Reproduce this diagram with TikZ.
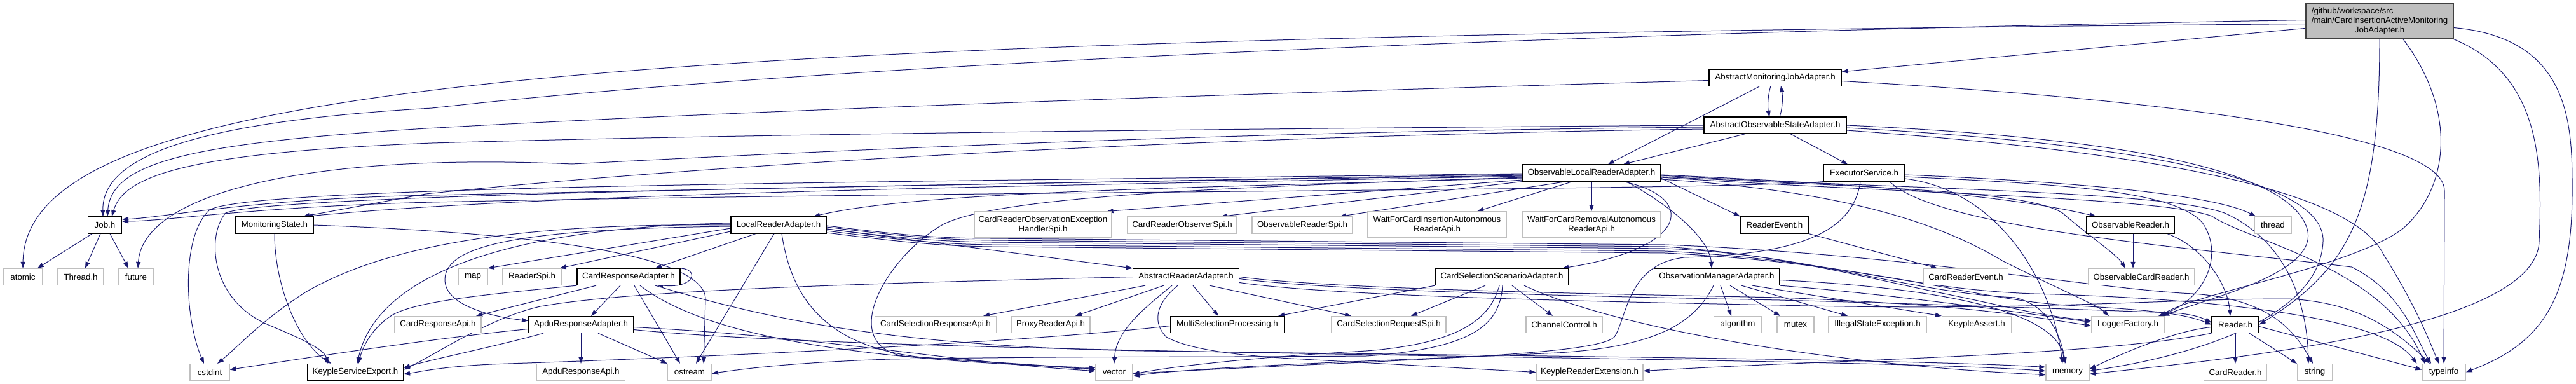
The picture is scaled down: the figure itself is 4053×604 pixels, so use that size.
\documentclass[tikz,border=0pt]{standalone}
\usepackage{fontspec}
\setmainfont{Liberation Sans}
\usetikzlibrary{arrows.meta}
\definecolor{edgec}{HTML}{191970}
\definecolor{extc}{HTML}{BFBFBF}
\definecolor{rootfill}{HTML}{BFBFBF}
\definecolor{rootdraw}{HTML}{404040}
\pgfdeclarelayer{background}
\pgfsetlayers{background,main}
\begin{document}
\begin{tikzpicture}[x=1pt,y=-1pt,
  every node/.style={font=\fontsize{13.3}{15}\selectfont, inner sep=0pt},
  doc/.style={draw=black, line width=1.2pt, fill=white, minimum height=26pt},
  ext/.style={draw=extc, line width=1.2pt, fill=white, minimum height=26pt},
  ml/.style={align=center, minimum height=41pt},
  e/.style={draw=edgec, line width=1pt, -{Triangle[length=10pt,width=7pt]}},
]
\useasboundingbox (0,0) rectangle (4053,604);
% ---------------- nodes ----------------
\node[draw=rootdraw, fill=rootfill, line width=1.2pt, minimum width=232pt, minimum height=55pt] (R) at (3744,33.5)
  {\begin{tabular}{@{}l@{}}/github/workspace/src\\/main/CardInsertionActiveMonitoring\\\multicolumn{1}{@{}c@{}}{JobAdapter.h}\end{tabular}};
\node[doc, minimum width=208pt] (AMJ) at (2793,122.5) {AbstractMonitoringJobAdapter.h};
\node[doc, minimum width=224pt] (AOSA) at (2793,197) {AbstractObservableStateAdapter.h};
\node[doc, minimum width=217pt] (OLRA) at (2504,272) {ObservableLocalReaderAdapter.h};
\node[doc, minimum width=127pt] (ES) at (2933,272) {ExecutorService.h};
% row 5
\node[doc, minimum width=53pt] (Job) at (165,354) {Job.h};
\node[doc, minimum width=123pt] (MS) at (432,354) {MonitoringState.h};
\node[doc, minimum width=150pt] (LRA) at (1225,354) {LocalReaderAdapter.h};
\node[ext, ml, minimum width=216pt] (CROEH) at (1641,353.5) {CardReaderObservationException\\HandlerSpi.h};
\node[ext, minimum width=172pt] (CROS) at (1860,354) {CardReaderObserverSpi.h};
\node[ext, minimum width=158pt] (ORS) at (2049,354) {ObservableReaderSpi.h};
\node[ext, ml, minimum width=218pt] (WFCI) at (2261,353.5) {WaitForCardInsertionAutonomous\\ReaderApi.h};
\node[ext, ml, minimum width=218pt] (WFCR) at (2504,353.5) {WaitForCardRemovalAutonomous\\ReaderApi.h};
\node[doc, minimum width=107pt] (RE) at (2792,354) {ReaderEvent.h};
\node[doc, minimum width=138pt] (OR) at (3352,354) {ObservableReader.h};
\node[ext, minimum width=58pt] (thread) at (3576,354) {thread};
% row 6
\node[ext, minimum width=61pt] (atomic) at (36,435.5) {atomic};
\node[ext, minimum width=72pt] (ThreadH) at (127,435.5) {Thread.h};
\node[ext, minimum width=55pt] (future) at (214,435.5) {future};
\node[ext, minimum width=46pt] (map) at (744,435.5) {map};
\node[ext, minimum width=92pt] (RSpi) at (837,435.5) {ReaderSpi.h};
\node[doc, minimum width=162pt] (CRA) at (989,435.5) {CardResponseAdapter.h};
\node[doc, minimum width=167pt] (ARA) at (1866,435.5) {AbstractReaderAdapter.h};
\node[doc, minimum width=209pt] (CSSA) at (2363,435.5) {CardSelectionScenarioAdapter.h};
\node[doc, minimum width=197pt] (OMA) at (2701,435.5) {ObservationManagerAdapter.h};
\node[ext, minimum width=133pt] (CRE) at (3093,435.5) {CardReaderEvent.h};
\node[ext, minimum width=167pt] (OCR) at (3369,435.5) {ObservableCardReader.h};
% row 7
\node[ext, minimum width=136pt] (CRApi) at (689,510.5) {CardResponseApi.h};
\node[doc, minimum width=165pt] (ARsA) at (914,510.5) {ApduResponseAdapter.h};
\node[ext, minimum width=191pt] (CSRsA) at (1472,510.5) {CardSelectionResponseApi.h};
\node[ext, minimum width=124pt] (PRA) at (1653,510.5) {ProxyReaderApi.h};
\node[doc, minimum width=179pt] (MSP) at (1931,510.5) {MultiSelectionProcessing.h};
\node[ext, minimum width=180pt] (CSRqS) at (2185,510.5) {CardSelectionRequestSpi.h};
\node[ext, minimum width=120pt] (CC) at (2461,510.5) {ChannelControl.h};
\node[ext, minimum width=75pt] (algo) at (2734,510.5) {algorithm};
\node[ext, minimum width=58pt] (mutex) at (2825,510.5) {mutex};
\node[ext, minimum width=154pt] (ISE) at (2954,510.5) {IllegalStateException.h};
\node[ext, minimum width=109pt] (KA) at (3110,510.5) {KeypleAssert.h};
\node[ext, minimum width=115pt] (LF) at (3348,510.5) {LoggerFactory.h};
\node[doc, minimum width=74pt] (Reader) at (3517,510.5) {Reader.h};
% row 8
\node[ext, minimum width=62pt] (cstdint) at (330,585.5) {cstdint};
\node[doc, minimum width=151pt] (KSE) at (559,585.5) {KeypleServiceExport.h};
\node[ext, minimum width=139pt] (ARApi) at (914,585.5) {ApduResponseApi.h};
\node[ext, minimum width=69pt] (ostream) at (1085,585.5) {ostream};
\node[ext, minimum width=58pt] (vector) at (1753,585.5) {vector};
\node[ext, minimum width=168pt] (KRE) at (2501,585.5) {KeypleReaderExtension.h};
\node[ext, minimum width=68pt] (memory) at (3253,585.5) {memory};
\node[ext, minimum width=99pt] (CardReader) at (3517,585.5) {CardReader.h};
\node[ext, minimum width=55pt] (string) at (3642,585.5) {string};
\node[ext, minimum width=68pt] (typeinfo) at (3845,585.5) {typeinfo};

\begin{pgfonlayer}{background}
% ---------- root ----------
\draw[e] (R) -- (AMJ);
\draw[e] ([yshift=-4pt]R.west) .. controls (1000,60) and (40,120) .. (atomic.north);
\draw[e] ([yshift=2pt]R.west) .. controls (2500,50) and (1300,100) .. (680,170) .. controls (330,190) and (160,240) .. ([xshift=-3pt]Job.north);
\draw[e] (R.south) .. controls (3744,330) and (3700,420) .. (Reader.east);
\draw[e] ([xshift=37pt]R.south) .. controls (3870,180) and (3850,300) .. (3780,360) .. controls (3700,420) and (3460,460) .. ([xshift=-8pt]LF.north east);
\draw[e] (R.south east) .. controls (4000,120) and (4000,260) .. (3995,380) .. controls (3990,520) and (3500,565) .. ([yshift=-3pt]memory.east);
\draw[e] ([yshift=-10pt]R.east) .. controls (4047,60) and (4047,200) .. (4047,300) .. controls (4047,470) and (4000,540) .. (typeinfo.east);
% ---------- AbstractMonitoringJobAdapter ----------
\draw[e] (2786,135) .. controls (2781,152) and (2781,168) .. (2784,184);
\draw[e] ([xshift=-25pt]AMJ.south) -- ([xshift=26pt]OLRA.north);
\draw[e] ([yshift=-4pt]AMJ.west) .. controls (2000,146) and (1200,172) .. (670,202) .. controls (300,225) and (175,255) .. ([xshift=4pt]Job.north);
\draw[e] ([yshift=-5pt]AMJ.east) .. controls (3300,150) and (3846,200) .. (3846,300) -- (typeinfo.north);
% ---------- AbstractObservableStateAdapter ----------
\draw[e] (2800,184) .. controls (2805,168) and (2805,152) .. (2802,135);
\draw[e] ([xshift=-47pt]AOSA.south) -- ([xshift=50pt]OLRA.north);
\draw[e] ([xshift=24pt]AOSA.south) -- ([xshift=-26pt]ES.north);
\draw[e] (AOSA.west) .. controls (2000,202) and (1200,210) .. (680,225) .. controls (300,240) and (195,275) .. ([xshift=11pt]Job.north);
\draw[e] ([yshift=-6pt]AOSA.west) .. controls (2000,212) and (1200,250) .. (670,305) -- ([xshift=45pt]MS.north);
\draw[e] ([yshift=-3pt]AOSA.west) .. controls (2000,206) and (1400,232) .. (900,258) .. controls (500,240) and (225,300) .. ([xshift=3pt]future.north);
\draw[e] (AOSA.east) .. controls (3300,215) and (3600,260) .. (3630,360) .. controls (3650,430) and (3470,470) .. ([xshift=-3pt]LF.north east);
\draw[e] ([yshift=-4pt]AOSA.east) .. controls (3350,225) and (3660,280) .. (3655,380) .. controls (3650,500) and (3450,560) .. ([yshift=2pt]memory.east);
\draw[e] ([yshift=-8pt]AOSA.east) .. controls (3400,240) and (3700,300) .. (3750,400) .. controls (3800,480) and (3820,530) .. ([xshift=-8pt]typeinfo.north);
% ---------- ExecutorService ----------
\draw[e] (ES.south west) .. controls (2700,300) and (1500,300) .. (680,318) .. controls (400,325) and (260,348) .. ([yshift=6pt]Job.east);
\draw[e] ([yshift=-3pt]ES.east) .. controls (3250,285) and (3480,305) .. ([xshift=3pt]thread.north west);
\draw[e] ([yshift=-6pt]ES.east) .. controls (3250,290) and (3420,300) .. (3465,350) .. controls (3500,400) and (3470,470) .. ([xshift=-10pt]LF.north east);
\draw[e] ([yshift=-9pt]ES.east) .. controls (3150,300) and (3230,450) .. ([xshift=-8pt]memory.north);
\draw[e] ([xshift=40pt]ES.south) .. controls (3050,360) and (3450,390) .. (3700,420) .. controls (3780,460) and (3800,530) .. ([xshift=-20pt]typeinfo.north);
\draw[e] ([xshift=-6pt]ES.south) .. controls (2915,370) and (2820,400) .. (2650,405) .. controls (2560,415) and (2560,500) .. (2540,530) .. controls (2510,560) and (2200,565) .. ([yshift=-2pt]vector.east);
% ---------- ObservableLocalReaderAdapter ----------
\draw[e] ([yshift=-2pt]OLRA.west) .. controls (1800,285) and (1000,300) .. (680,307) .. controls (400,312) and (260,342) .. ([yshift=9pt]Job.east);
\draw[e] ([yshift=-5pt]OLRA.west) .. controls (1800,290) and (900,300) .. ([xshift=50pt]MS.north);
\draw[e] ([yshift=-8pt]OLRA.west) .. controls (1900,295) and (1450,300) .. ([xshift=55pt]LRA.north);
\draw[e] ([yshift=-11pt]OLRA.west) -- ([xshift=-8pt]CROEH.north east);
\draw[e] (OLRA.south west) -- ([xshift=61pt]CROS.north);
\draw[e] ([xshift=-40pt]OLRA.south) -- ([xshift=59pt]ORS.north);
\draw[e] ([xshift=-30pt]OLRA.south) -- ([xshift=63pt]WFCI.north);
\draw[e] (OLRA.south) -- (WFCR.north);
\draw[e] ([xshift=50pt]OLRA.south) .. controls (2670,310) and (2660,390) .. ([xshift=-10pt]CSSA.north east);
\draw[e] ([xshift=55pt]OLRA.south) .. controls (2640,330) and (2690,380) .. ([xshift=-8pt]OMA.north);
\draw[e] ([yshift=-8pt]OLRA.east) -- (RE.north west);
\draw[e] ([yshift=-3pt]OLRA.east) .. controls (2900,288) and (3150,305) .. ([xshift=-54pt]OR.north);
\draw[e] ([yshift=-6pt]OLRA.east) .. controls (2950,295) and (3190,300) .. (3245,335) .. controls (3285,370) and (3330,400) .. ([xshift=-25pt]OCR.north);
\draw[e] ([yshift=-4pt]OLRA.west) .. controls (1500,290) and (420,305) .. (355,335) .. controls (325,370) and (330,470) .. (420,510) .. controls (480,535) and (510,550) .. ([xshift=-43pt]KSE.north);
\draw[e] ([yshift=-1pt]OLRA.west) .. controls (1500,286) and (400,290) .. (330,330) .. controls (285,370) and (290,500) .. ([xshift=-9pt]cstdint.north);
\draw[e] ([yshift=-7pt]OLRA.west) .. controls (1900,295) and (1560,310) .. (1480,355) .. controls (1390,410) and (1320,540) .. (1420,560) -- ([yshift=4pt]vector.west);
\draw[e] ([yshift=-10pt]OLRA.east) .. controls (2900,300) and (3050,350) .. (3150,410) .. controls (3250,460) and (3300,480) .. ([xshift=-30pt]LF.north);
\draw[e] ([yshift=-4pt]OLRA.east) .. controls (3000,298) and (3400,300) .. (3500,335) .. controls (3600,380) and (3630,480) .. ([xshift=-10pt]string.north);
\draw[e] ([yshift=-7pt]OLRA.east) .. controls (3000,305) and (3400,310) .. (3480,340) .. controls (3540,380) and (3750,420) .. ([xshift=-30pt]typeinfo.north);
% ---------- Job ----------
\draw[e] ([xshift=-20pt]Job.south) -- ([xshift=23pt]atomic.north);
\draw[e] ([xshift=-7pt]Job.south) -- ([xshift=7pt]ThreadH.north);
\draw[e] ([xshift=8pt]Job.south) -- ([xshift=-12pt]future.north);
% ---------- MonitoringState ----------
\draw[e] (MS.south) .. controls (432,450) and (470,540) .. ([xshift=-38pt]KSE.north);
\draw[e] (MS.east) .. controls (800,365) and (1108,395) .. (1110,470) -- ([xshift=22pt]ostream.north);
% ---------- LocalReaderAdapter ----------
\draw[e] ([yshift=-5pt]LRA.west) -- (map.north east);
\draw[e] ([yshift=-10pt]LRA.west) -- ([xshift=-3pt]RSpi.north east);
\draw[e] ([xshift=-36pt]LRA.south) -- ([xshift=42pt]CRA.north);
\draw[e] ([xshift=-7pt]LRA.south) -- ([xshift=10pt]ostream.north);
\draw[e] (LRA.west) .. controls (800,350) and (600,390) .. (480,460) .. controls (410,505) and (375,545) .. ([xshift=12pt]cstdint.north);
\draw[e] ([yshift=3pt]LRA.west) .. controls (900,355) and (600,400) .. ([xshift=3pt]KSE.north);
\draw[e] ([yshift=-2pt]LRA.west) .. controls (820,360) and (700,385) .. (700,440) .. controls (700,485) and (790,500) .. ([yshift=6pt]ARsA.west);
\draw[e] ([yshift=-6pt]LRA.east) -- (ARA.north west);
\draw[e] ([xshift=5pt]LRA.south) .. controls (1245,470) and (1300,545) .. (1450,562) -- ([yshift=5pt]vector.west);
\draw[e] ([yshift=-1pt]LRA.east) .. controls (1420,370) and (1480,375) .. (1560,375) -- (2620,385) .. controls (3000,400) and (3300,455) .. (3450,462) .. controls (3570,470) and (3610,520) .. ([xshift=-3pt]string.north);
\draw[e] ([yshift=-3pt]LRA.east) .. controls (1420,372) and (1480,377) .. (1560,378) -- (2620,388) .. controls (2800,400) and (2950,440) .. (3050,460) .. controls (3150,480) and (3200,495) .. ([yshift=6pt]LF.west);
\draw[e] ([yshift=-6pt]LRA.east) .. controls (1420,375) and (1480,380) .. (1560,381) -- (2620,391) .. controls (2850,400) and (3000,460) .. (3170,468) .. controls (3220,480) and (3240,520) .. ([xshift=-3pt]memory.north);
\draw[e] ([yshift=-9pt]LRA.east) .. controls (1420,378) and (1480,384) .. (1560,385) -- (2620,395) .. controls (2900,410) and (3000,455) .. (3200,462) .. controls (3500,470) and (3750,500) .. ([xshift=-8pt]typeinfo.north west);
\draw[e] ([yshift=-12pt]LRA.east) .. controls (1420,381) and (1480,387) .. (1560,388) -- (2620,398) .. controls (2950,415) and (3100,470) .. (3250,480) .. controls (3400,488) and (3440,495) .. (Reader.west);
% ---------- CardResponseAdapter ----------
\draw[e] (1057,423) .. controls (1102,415) and (1100,455) .. (1033,448);
\draw[e] ([xshift=-51pt]CRA.south) -- ([xshift=60pt]CRApi.north);
\draw[e] ([xshift=-13pt]CRA.south) -- ([xshift=16pt]ARsA.north);
\draw[e] ([xshift=9pt]CRA.south) -- ([xshift=-15pt]ostream.north);
\draw[e] (CRA.south west) .. controls (780,462) and (660,472) .. (618,495) .. controls (590,512) and (572,540) .. ([xshift=5pt]KSE.north);
\draw[e] ([xshift=18pt]CRA.south) .. controls (1100,520) and (1300,565) .. ([yshift=7pt]vector.west);
\draw[e] ([xshift=42pt]CRA.south) .. controls (1200,500) and (1400,545) .. (1800,552) .. controls (2400,560) and (3000,565) .. ([yshift=8pt]memory.west);
% ---------- ApduResponseAdapter ----------
\draw[e] (ARsA.south) -- (ARApi.north);
\draw[e] ([xshift=27pt]ARsA.south) -- (ostream.north west);
\draw[e] ([xshift=-59pt]ARsA.south) .. controls (780,545) and (680,565) .. ([yshift=7pt]KSE.east);
\draw[e] ([yshift=-7pt]ARsA.west) .. controls (700,530) and (500,560) .. ([yshift=4pt]cstdint.east);
\draw[e] ([yshift=-4pt]ARsA.east) .. controls (1300,530) and (1500,570) .. ([yshift=2pt]vector.west);
\draw[e] ([yshift=-8pt]ARsA.east) .. controls (1400,560) and (2900,560) .. ([yshift=2pt]memory.west);
% ---------- AbstractReaderAdapter ----------
\draw[e] ([xshift=-64pt]ARA.south) -- ([xshift=75pt]CSRsA.north);
\draw[e] ([xshift=-35pt]ARA.south) -- ([xshift=39pt]PRA.north);
\draw[e] ([xshift=-22pt]ARA.south) .. controls (1800,485) and (1756,520) .. (vector.north);
\draw[e] ([xshift=11pt]ARA.south) -- ([xshift=-14pt]MSP.north);
\draw[e] ([xshift=37pt]ARA.south) -- ([xshift=-59pt]CSRqS.north);
\draw[e] ([xshift=-13pt]ARA.south) .. controls (1815,480) and (1815,510) .. (1835,530) .. controls (1870,550) and (1950,560) .. (2050,565) -- (KRE.west);
\draw[e] (ARA.west) .. controls (1400,445) and (1000,455) .. (850,482) .. controls (770,500) and (690,555) .. ([yshift=4pt]KSE.east);
\draw[e] (ARA.east) .. controls (2100,455) and (2500,462) .. (2800,468) .. controls (3050,478) and (3150,490) .. ([yshift=-2pt]LF.west);
\draw[e] ([yshift=-3pt]ARA.east) .. controls (2100,458) and (2500,466) .. (2800,472) .. controls (3100,480) and (3300,488) .. (3420,492) .. controls (3450,494) and (3465,500) .. ([yshift=3pt]Reader.west);
\draw[e] ([yshift=-9pt]ARA.east) .. controls (2100,466) and (2500,474) .. (2800,480) .. controls (3200,490) and (3400,470) .. (3600,470) .. controls (3700,475) and (3760,510) .. ([xshift=-22pt]typeinfo.north);
% ---------- CardSelectionScenarioAdapter ----------
\draw[e] ([xshift=-26pt]CSSA.south) -- ([xshift=35pt]CSRqS.north);
\draw[e] ([xshift=16pt]CSSA.south) -- ([xshift=-18pt]CC.north);
\draw[e] (CSSA.south west) -- ([xshift=-10pt]MSP.north east);
\draw[e] ([xshift=-4pt]CSSA.south) .. controls (2345,500) and (2300,540) .. (2150,552) .. controls (2000,560) and (1850,575) .. ([yshift=-3pt]vector.east);
\draw[e] ([xshift=1pt]CSSA.south) .. controls (2360,510) and (2320,548) .. (2150,560) .. controls (1900,562) and (1700,560) .. (1400,565) .. controls (1250,570) and (1170,580) .. ([yshift=-2pt]ostream.east);
\draw[e] ([xshift=35pt]CSSA.south) .. controls (2550,520) and (2900,575) .. ([yshift=-4pt]memory.west);
% ---------- ObservationManagerAdapter ----------
\draw[e] ([xshift=6pt]OMA.south) -- ([xshift=-10pt]algo.north);
\draw[e] ([xshift=21pt]OMA.south) -- ([xshift=-24pt]mutex.north);
\draw[e] ([xshift=39pt]OMA.south) -- ([xshift=-47pt]ISE.north);
\draw[e] ([xshift=56pt]OMA.south) -- (KA.north west);
\draw[e] (OMA.south east) .. controls (3000,465) and (3200,495) .. ([yshift=4pt]LF.west);
\draw[e] ([yshift=-5pt]OMA.east) .. controls (3100,455) and (3240,500) .. ([xshift=-5pt]memory.north);
\draw[e] ([xshift=-5pt]OMA.south) .. controls (2670,500) and (2620,545) .. (2450,555) .. controls (2250,565) and (1900,575) .. ([yshift=-6pt]vector.east);
% ---------- misc ----------
\draw[e] (RE.south east) -- ([xshift=-45pt]CRE.north);
\draw[e] ([xshift=4pt]OR.south) -- ([xshift=-13pt]OCR.north);
\draw[e] ([xshift=58pt]OR.south) .. controls (3470,390) and (3505,450) .. ([xshift=-8pt]Reader.north);
\draw[e] (Reader.south) -- (CardReader.north);
\draw[e] ([xshift=22pt]Reader.south) -- (string.north west);
\draw[e] ([yshift=-3pt]Reader.east) -- ([yshift=4pt]typeinfo.west);
\draw[e] ([yshift=-4pt]Reader.west) .. controls (3420,520) and (3330,560) .. ([yshift=5pt]memory.east);
\draw[e] (Reader.south west) .. controls (3300,560) and (2900,565) .. ([yshift=2pt]KRE.east);
\draw[e] ([yshift=-2pt]MSP.west) .. controls (1600,540) and (1100,562) .. (800,572) .. controls (700,575) and (660,585) .. ([yshift=-3pt]KSE.east);
\end{pgfonlayer}
\end{tikzpicture}
\end{document}
